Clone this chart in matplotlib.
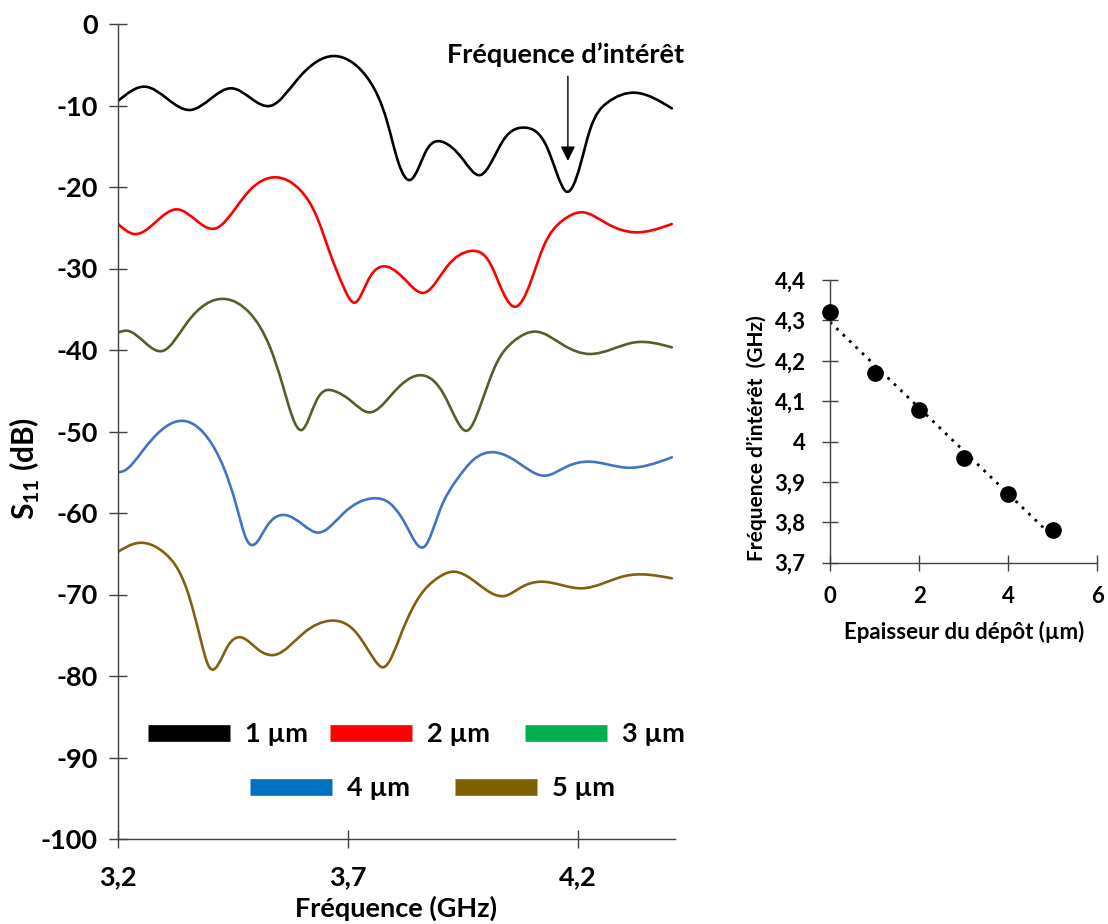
import numpy as np
import matplotlib
matplotlib.use("Agg")
import matplotlib.pyplot as plt
from matplotlib.path import Path
from matplotlib.patches import PathPatch
from matplotlib.lines import Line2D

plt.rcParams['font.family'] = ['Lato', 'DejaVu Sans']
plt.rcParams['font.weight'] = 'bold'
plt.rcParams['mathtext.fontset'] = 'custom'
plt.rcParams['mathtext.rm'] = 'Lato:bold'
plt.rcParams['mathtext.bf'] = 'Lato:bold'

# ---------------- data ----------------
f_1um = [3.200, 3.259, 3.357, 3.447, 3.533, 3.589, 3.632, 3.668, 3.712, 3.748, 3.784,
         3.809, 3.838, 3.871, 3.904, 3.951, 3.988, 4.038, 4.085, 4.132, 4.154, 4.175,
         4.204, 4.226, 4.262, 4.324, 4.404]
s_1um = [-9.45, -7.69, -10.55, -7.89, -10.02, -6.87, -4.62, -3.93, -4.83, -7.08, -11.78,
         -16.9, -19.06, -15.46, -14.44, -16.69, -18.53, -14.23, -12.72, -15.05, -18.32, -20.57,
         -17.5, -13.0, -9.73, -8.43, -10.35]

f_2um = [3.200, 3.235, 3.328, 3.413, 3.458, 3.487, 3.543, 3.596, 3.632, 3.661, 3.690,
         3.715, 3.744, 3.785, 3.828, 3.866, 3.915, 3.967, 4.009, 4.038, 4.065, 4.096,
         4.125, 4.168, 4.208, 4.262, 4.324, 4.404]
s_2um = [-24.54, -25.77, -22.74, -25.07, -22.41, -20.37, -18.81, -20.37, -23.64, -28.14, -32.23,
         -34.19, -31.41, -29.78, -31.6, -32.97, -29.78, -27.85, -29.37, -33.05, -34.69, -31.82,
         -27.32, -24.05, -23.1, -24.46, -25.56, -24.54]

f_3um = [3.200, 3.219, 3.299, 3.349, 3.433, 3.487, 3.530, 3.559, 3.599, 3.632, 3.670,
         3.704, 3.748, 3.791, 3.813, 3.866, 3.907, 3.936, 3.959, 3.987, 4.023, 4.059,
         4.110, 4.168, 4.226, 4.324, 4.404]
s_3um = [-37.87, -37.63, -40.08, -36.73, -33.74, -35.5, -39.6, -44.5, -49.82, -46.13, -45.03,
         -46.13, -47.65, -45.73, -44.4, -43.15, -45.32, -48.59, -49.9, -46.95, -41.63, -38.98,
         -37.75, -39.39, -40.49, -39.06, -39.67]

f_4um = [3.200, 3.212, 3.255, 3.333, 3.393, 3.429, 3.458, 3.480, 3.498, 3.523, 3.563,
         3.603, 3.635, 3.690, 3.755, 3.791, 3.813, 3.828, 3.866, 3.900, 3.936, 3.972,
         4.020, 4.067, 4.128, 4.175, 4.226, 4.306, 4.404]
s_4um = [-55.0, -54.85, -52.27, -48.71, -50.64, -54.32, -59.23, -63.31, -63.8, -61.68, -60.25,
         -61.47, -62.41, -60.04, -58.2, -58.81, -60.25, -61.68, -64.13, -59.63, -55.95, -53.5,
         -52.56, -53.7, -55.42, -54.32, -53.7, -54.44, -53.17]

f_5um = [3.200, 3.239, 3.302, 3.350, 3.380, 3.397, 3.438, 3.467, 3.506, 3.543, 3.603,
         3.663, 3.719, 3.758, 3.776, 3.816, 3.855, 3.894, 3.928, 3.981, 4.040, 4.079,
         4.122, 4.209, 4.302, 4.404]
s_5um = [-64.75, -63.72, -64.95, -69.45, -75.58, -78.77, -76.4, -75.25, -76.81, -77.38, -74.76,
         -73.21, -74.76, -78.04, -78.93, -74.76, -70.27, -68.01, -67.2, -68.63, -70.18, -69.04,
         -68.43, -69.24, -67.73, -68.01]

series_labels = ['1 µm', '2 µm', '3 µm', '4 µm', '5 µm']
line_colors = ['#000000', '#FF0000', '#4F6228', '#4472C4', '#806010']
legend_colors = ['#000000', '#FF0000', '#00B050', '#0070C0', '#7F6000']

x_ticks = [3.2, 3.7, 4.2]
x_ticklabels = ['3,2', '3,7', '4,2']
y_ticks = list(range(-100, 1, 10))
y_ticklabels = [str(v) for v in y_ticks]

thickness = [0, 1, 2, 3, 4, 5]
f_interest = [4.322, 4.170, 4.078, 3.960, 3.869, 3.782]
x2_ticks = [0, 2, 4, 6]
y2_ticks = [3.7, 3.8, 3.9, 4.0, 4.1, 4.2, 4.3, 4.4]
y2_ticklabels = ['3,7', '3,8', '3,9', '4', '4,1', '4,2', '4,3', '4,4']

marker_f = 4.178  # fréquence d'intérêt marker position (GHz)


# ---------------- helpers ----------------
def spline_slopes(x, y):
    """Knot slopes of the natural cubic spline through (x, y)."""
    x = np.asarray(x, float); y = np.asarray(y, float)
    n = len(x); h = np.diff(x); dl = np.diff(y) / h
    A = np.zeros((n, n)); b = np.zeros(n)
    A[0, 0] = 1.0; A[-1, -1] = 1.0
    for i in range(1, n - 1):
        A[i, i - 1] = h[i - 1]
        A[i, i] = 2 * (h[i - 1] + h[i])
        A[i, i + 1] = h[i]
        b[i] = 6 * (dl[i] - dl[i - 1])
    M = np.linalg.solve(A, b)
    d = np.zeros(n)
    d[:-1] = dl - h * (2 * M[:-1] + M[1:]) / 6
    d[-1] = dl[-1] + h[-1] * (M[-2] + 2 * M[-1]) / 6
    return d


def smooth_line(ax, x, y, **kw):
    x = np.asarray(x, float); y = np.asarray(y, float)
    d = spline_slopes(x, y)
    verts = [(x[0], y[0])]; codes = [Path.MOVETO]
    for i in range(len(x) - 1):
        h = x[i + 1] - x[i]
        verts += [(x[i] + h / 3, y[i] + d[i] * h / 3),
                  (x[i + 1] - h / 3, y[i + 1] - d[i + 1] * h / 3),
                  (x[i + 1], y[i + 1])]
        codes += [Path.CURVE4] * 3
    p = PathPatch(Path(verts, codes), facecolor='none', transform=ax.transData, **kw)
    ax.add_patch(p)
    return p


W, H = 1108, 924
fig = plt.figure(figsize=(W / 100, H / 100), dpi=100)
axis_col = '#404040'
FS = 19.5

# ---------------- main chart ----------------
ax = fig.add_axes([118 / W, 1 - 839 / H, 556.6 / W, 815 / H])
ax.set_xlim(3.2, 4.41)
ax.set_ylim(-100, 0)
for s in ['top', 'right']:
    ax.spines[s].set_visible(False)
for s in ['left', 'bottom']:
    ax.spines[s].set_color(axis_col)
    ax.spines[s].set_linewidth(1.0)

freqs = [f_1um, f_2um, f_3um, f_4um, f_5um]
vals = [s_1um, s_2um, s_3um, s_4um, s_5um]
for f, v, c in zip(freqs, vals, line_colors):
    smooth_line(ax, f, v, edgecolor=c, linewidth=1.9, capstyle='round', joinstyle='round')

ax.set_xticks(x_ticks)
ax.set_xticklabels(x_ticklabels)
ax.set_yticks(y_ticks)
ax.set_yticklabels(y_ticklabels)
ax.tick_params(axis='both', direction='inout', length=13, width=1.0, color=axis_col,
               labelsize=FS, labelcolor='black')
ax.tick_params(axis='y', pad=8)
ax.tick_params(axis='x', pad=12)
for lab in ax.get_xticklabels() + ax.get_yticklabels():
    lab.set_fontweight('bold')

ax.set_xlabel('Fréquence (GHz)', fontsize=FS, fontweight='bold', labelpad=5)
ax.set_ylabel(r'S$_{11}$ (dB)', fontsize=21.5, fontweight='bold', va='center')
ax.yaxis.set_label_coords(-0.168, 0.455)

# annotation
ax.text(4.174, -3.8, 'Fréquence d’intérêt', fontsize=FS, fontweight='bold',
        ha='center', va='center')
ax.annotate('', xy=(marker_f, -16.8), xytext=(marker_f, -6.4),
            arrowprops=dict(arrowstyle='-|>', color='black', lw=1.0, mutation_scale=22,
                            shrinkA=0, shrinkB=0))

# legend: individual entries
leg_pos = [(148, 734), (330, 734), (525, 734), (250, 788), (455, 788)]
for i, (lab, col) in enumerate(zip(series_labels, legend_colors)):
    h = Line2D([], [], color=col, linewidth=12, solid_capstyle='butt')
    fig.legend([h], [lab], loc='center left',
               bbox_to_anchor=(leg_pos[i][0] / W, 1 - leg_pos[i][1] / H),
               bbox_transform=fig.transFigure, frameon=False,
               borderpad=0, borderaxespad=0, handlelength=82 / (FS * 1.389),
               handletextpad=0.55, prop={'size': FS, 'weight': 'bold'})

# ---------------- inset chart ----------------
ax2 = fig.add_axes([830 / W, 1 - 562.7 / H, 267.3 / W, 282.7 / H])
ax2.set_xlim(0, 6)
ax2.set_ylim(3.7, 4.4)
for s in ['top', 'right']:
    ax2.spines[s].set_visible(False)
for s in ['left', 'bottom']:
    ax2.spines[s].set_color(axis_col)
    ax2.spines[s].set_linewidth(1.0)

coef = np.polyfit(thickness, f_interest, 1)
tx = np.array([thickness[0], thickness[-1]])
ax2.plot(tx, np.polyval(coef, tx), color='black', linestyle=(0, (1, 2.2)), linewidth=2.0,
         zorder=2)
ax2.plot(thickness, f_interest, 'o', color='black', markersize=11, zorder=3, clip_on=False)

ax2.set_xticks(x2_ticks)
ax2.set_yticks(y2_ticks)
ax2.set_yticklabels(y2_ticklabels)
ax2.tick_params(axis='both', direction='inout', length=11, width=1.0, color=axis_col,
                labelsize=16, labelcolor='black')
ax2.tick_params(axis='y', pad=12)
ax2.tick_params(axis='x', pad=11)
for lab in ax2.get_xticklabels() + ax2.get_yticklabels():
    lab.set_fontweight('bold')
ax2.set_xlabel('Epaisseur du dépôt (µm)', fontsize=16, fontweight='bold', labelpad=10)
ax2.set_ylabel('Fréquence d’intérêt  (GHz)', fontsize=15, fontweight='bold', va='center')
ax2.yaxis.set_label_coords(-0.273, 0.44)

fig.savefig('out.png', dpi=100)
